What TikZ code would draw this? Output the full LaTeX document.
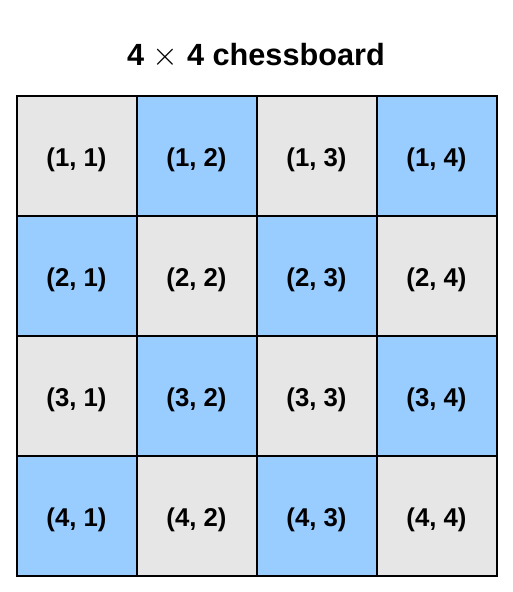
\documentclass[tikz,border=0pt]{standalone}
\usepackage{fontspec}
\setmainfont{Liberation Sans}
\definecolor{cellgray}{HTML}{E6E6E6}
\definecolor{cellblue}{HTML}{99CCFF}
\tikzset{
  cell/.style={draw=black, line width=1.5pt, minimum width=90pt, minimum height=90pt, inner sep=0pt, anchor=center},
  celltext/.style={font=\bfseries\fontsize{19.3}{22}\selectfont, anchor=center},
  graycell/.style={cell, fill=cellgray},
  bluecell/.style={cell, fill=cellblue},
  titletext/.style={font=\bfseries\fontsize{23}{27}\selectfont}
}
\begin{document}
\begin{tikzpicture}[x=0.75pt, y=-0.75pt]
\useasboundingbox (0,0) rectangle (513,592);
\node[titletext] (title) at (256,56) {4 $\times$ 4 chessboard};
\foreach \r in {1,...,4}{
  \foreach \c in {1,...,4}{
    \pgfmathtruncatemacro{\myparity}{mod(\r+\c,2)}
    \ifnum\myparity=0
      \node[graycell] (c\r\c) at ({16.5+120*(\c-0.5)}, {95.5+120*(\r-0.5)}) {};
    \else
      \node[bluecell] (c\r\c) at ({16.5+120*(\c-0.5)}, {95.5+120*(\r-0.5)}) {};
    \fi
    \node[celltext] (t\r\c) at ([yshift=-3pt]c\r\c.center) {(\r, \c)};
  }
}
\end{tikzpicture}
\end{document}
